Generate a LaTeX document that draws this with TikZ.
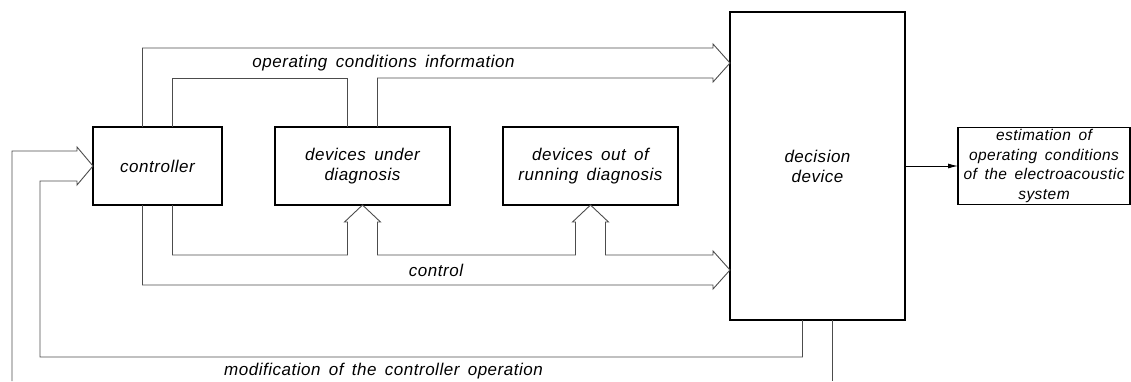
\documentclass[tikz,border=0pt]{standalone}
\usepackage{fontspec}
\newfontfamily\isofont[LetterSpace=3,WordSpace=1.6]{Liberation Sans}
\usetikzlibrary{arrows.meta}

\begin{document}
\begin{tikzpicture}[x=1pt,y=-1pt,
  box/.style={draw, line width=1.8pt, outer sep=0pt, inner sep=0pt, align=center,
    font=\isofont\itshape\fontsize{17}{20}\selectfont},
  lbl/.style={inner sep=0pt, font=\isofont\itshape\fontsize{17}{20}\selectfont},
  conn/.style={draw=black!70, line width=0.9pt}]
  \useasboundingbox (0,0) rectangle (1131,381);
  \node[box, minimum width=129, minimum height=78] (ctrl) at (157.5,166) {controller};
  \node[box, minimum width=175, minimum height=78] (dud) at (362.5,166) {devices under\\diagnosis};
  \node[box, minimum width=175, minimum height=78] (dor) at (590.5,166) {devices out of\\running diagnosis};
  \node[box, minimum width=175, minimum height=308] (dec) at (817.5,166) {decision\\device};
  \node[box, minimum width=172, minimum height=77, font=\isofont\itshape\fontsize{15.5}{19.5}\selectfont] (est) at (1044,166)
    {estimation of\\operating conditions\\of the electroacoustic\\system};
  \coordinate (infotip) at ([yshift=103]dec.west);
  \coordinate (ctltip) at ([yshift=-104]dec.west);
  \coordinate (fbleft) at (12,381);
  \coordinate (fbright) at (832.5,381);
  % operating conditions information
  \draw[conn] ([xshift=-15]ctrl.north) |- ([xshift=-17,yshift=15]infotip) -- ++(0,-4) -- (infotip)
    -- ++(-17,19) -- ++(0,-4) -| ([xshift=15]dud.north);
  \draw[conn] ([xshift=15]ctrl.north) -- ++(0,-49) -| ([xshift=-15]dud.north);
  % control
  \draw[conn] ([xshift=-15]ctrl.south) |- ([xshift=-17,yshift=-15]ctltip) -- ++(0,4) -- (ctltip)
    -- ++(-17,-19) -- ++(0,4) -| ([xshift=15,yshift=-17]dor.south) -- ++(3,0) -- (dor.south)
    -- ++(-18,17) -- ++(3,0) -- ++(0,33) -| ([xshift=15,yshift=-17]dud.south) -- ++(3,0) -- (dud.south)
    -- ++(-18,17) -- ++(3,0) -- ++(0,33) -| ([xshift=15]ctrl.south);
  % modification of the controller operation
  \draw[conn] ([xshift=-15]dec.south) -- ++(0,37) -| ([xshift=-53,yshift=-15]ctrl.west) -- ++(37,0)
    -- ++(0,4) -- (ctrl.west) -- ++(-16,-19) -- ++(0,4) -| (fbleft);
  \draw[conn] ([xshift=15]dec.south) -- (fbright);
  \draw[line width=0.9pt, -{Latex[length=10pt,width=5pt]}] (dec.east) -- (est.west);
  \node[lbl] (infolbl) at (383.5,63) {operating conditions information};
  \node[lbl] (ctllbl) at (436,270) {control};
  \node[lbl] (modlbl) at (383.5,371) {modification of the controller operation};
\end{tikzpicture}
\end{document}
